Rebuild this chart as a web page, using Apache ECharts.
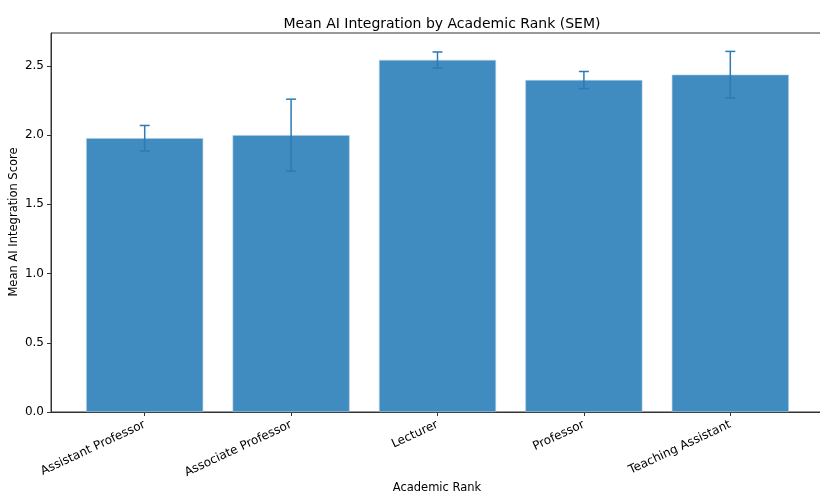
<!DOCTYPE html>
<html>
<head>
<meta charset="utf-8">
<script src="https://cdn.jsdelivr.net/npm/echarts@6/dist/echarts.min.js"></script>
<style>
  html, body { margin: 0; padding: 0; background: #fff; }
  #chart { width: 820px; height: 493px; }
</style>
</head>
<body>
<div id="chart"></div>
<script>
const ranks = ['Assistant Professor', 'Associate Professor', 'Lecturer', 'Professor', 'Teaching Assistant']
const means = [1.978, 2.0, 2.543, 2.398, 2.437]
const sems = [0.092, 0.26, 0.058, 0.062, 0.168]
const yTicks = [0, 0.5, 1.0, 1.5, 2.0, 2.5]

const font = 'DejaVu Sans'
const positions = ranks.map((_, i) => i)

const chart = echarts.init(document.getElementById('chart'))

chart.setOption({
  animation: false,
  title: {
    text: 'Mean AI Integration by Academic Rank (SEM)',
    left: 437, top: 12, textAlign: 'center',
    textStyle: { fontFamily: font, fontSize: 14, fontWeight: 'normal', color: '#000' }
  },
  grid: {
    left: 51, right: -4, top: 33, bottom: 81,
    containLabel: false,
    outerBoundsMode: 'none',
    show: true, borderColor: '#333', borderWidth: 1, backgroundColor: 'transparent'
  },
  // axis titles placed by hand (matplotlib puts them at fixed offsets)
  graphic: [
    {
      type: 'text', x: 437, y: 488,
      style: { text: 'Academic Rank', font: '11.5px "DejaVu Sans"', fill: '#000', align: 'center', verticalAlign: 'middle' }
    },
    {
      type: 'text', x: 14, y: 222, rotation: Math.PI / 2,
      style: { text: 'Mean AI Integration Score', font: '11.5px "DejaVu Sans"', fill: '#000', align: 'center', verticalAlign: 'middle' }
    }
  ],
  xAxis: {
    type: 'value',
    min: -0.64, max: 4.64,
    splitLine: { show: false },
    axisLine: { show: true, onZero: false, lineStyle: { color: '#333', width: 1 } },
    axisTick: { show: true, length: 4, customValues: positions, lineStyle: { color: '#333' } },
    axisLabel: {
      customValues: positions,
      rotate: 25,
      margin: 12,
      fontFamily: font, fontSize: 12, color: '#000',
      formatter: v => ranks[Math.round(v)] || ''
    }
  },
  yAxis: {
    type: 'value',
    min: 0, max: 2.738,
    splitLine: { show: false },
    axisLine: { show: true, onZero: false, lineStyle: { color: '#333', width: 1 } },
    axisTick: { show: true, length: 4, customValues: yTicks, lineStyle: { color: '#333' } },
    axisLabel: {
      customValues: yTicks,
      margin: 7,
      fontFamily: font, fontSize: 12, color: '#000',
      formatter: v => v.toFixed(1)
    }
  },
  series: [
    {
      type: 'bar',
      data: means.map((m, i) => [i, m]),
      barWidth: 117,
      itemStyle: { color: '#408bbf', borderColor: '#a9cbe4', borderWidth: 0.6 }
    },
    {
      type: 'custom',
      data: means.map((m, i) => [i, m - sems[i], m + sems[i]]),
      renderItem: (params, api) => {
        const lo = api.coord([api.value(0), api.value(1)])
        const hi = api.coord([api.value(0), api.value(2)])
        const x = lo[0]
        const cap = 5
        const style = { stroke: '#2a7bb6', lineWidth: 1.5 }
        return {
          type: 'group',
          children: [
            { type: 'line', shape: { x1: x, y1: lo[1], x2: x, y2: hi[1] }, style },
            { type: 'line', shape: { x1: x - cap, y1: lo[1], x2: x + cap, y2: lo[1] }, style },
            { type: 'line', shape: { x1: x - cap, y1: hi[1], x2: x + cap, y2: hi[1] }, style }
          ]
        }
      },
      z: 5
    }
  ]
})
</script>
</body>
</html>
